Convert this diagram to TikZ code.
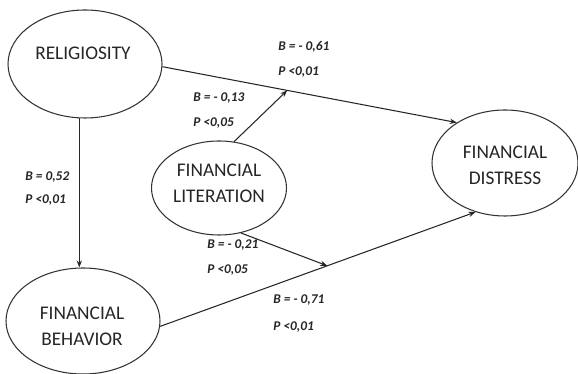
\documentclass[tikz,border=0pt]{standalone}
\usepackage{fontspec}
\setmainfont{Carlito}
\usetikzlibrary{shapes.geometric,arrows.meta}
\begin{document}
\begin{tikzpicture}[x=0.02cm, y=-0.02cm,
    var/.style={draw=black!80, line width=0.6pt, ellipse},
    varname/.style={align=center, font=\fontsize{11}{15}\selectfont, text=black!85},
    coef/.style={anchor=west, inner sep=0pt, font=\fontsize{7.6}{8}\selectfont\bfseries\itshape, text=black!85},
    path/.style={draw=black!85, line width=0.6pt, -{Stealth[length=4pt,width=3pt]}}]
            \useasboundingbox (0,0) rectangle (578,374);
            \fill[white] (0,0) rectangle (578,374);

            \node[var, minimum width=154*0.02cm, minimum height=108*0.02cm] (rel) at (85,64) {};
            \node[var, minimum width=135*0.02cm, minimum height=94*0.02cm] (lit) at (219,188) {};
            \node[var, minimum width=154*0.02cm, minimum height=106*0.02cm] (beh) at (83,321) {};
            \node[var, minimum width=146*0.02cm, minimum height=106*0.02cm] (dis) at (505,163) {};

            \node[varname] (relname) at (83,53) {RELIGIOSITY};
            \node[varname] (litname) at (219,183) {FINANCIAL\\LITERATION};
            \node[varname] (behname) at (82,326) {FINANCIAL\\BEHAVIOR};
            \node[varname] (disname) at (505,165) {FINANCIAL\\DISTRESS};

            \draw[path] (rel.-2) -- (dis.140) coordinate[pos=0.424] (m1);
            \draw[path] (rel.264) -- (rel.264 |- beh.north);
            \draw[path] (beh.-4) -- (dis.239) coordinate[pos=0.53] (m2);
            \draw[path] (lit.72) -- (m1);
            \draw[path] (lit.-64) -- (m2);

            \node[coef] (b1) at (278,47) {B = - 0,61};
            \node[coef] (p1) at (278,72) {P <0,01};
            \node[coef] (b2) at (193,98) {B = - 0,13};
            \node[coef] (p2) at (193,123) {P <0,05};
            \node[coef] (b3) at (25,177) {B = 0,52};
            \node[coef] (p3) at (25,200) {P <0,01};
            \node[coef] (b4) at (207,245) {B = - 0,21};
            \node[coef] (p4) at (207,270) {P <0,05};
            \node[coef] (b5) at (273,300) {B = - 0,71};
            \node[coef] (p5) at (273,327) {P <0,01};
        \end{tikzpicture}
\end{document}
